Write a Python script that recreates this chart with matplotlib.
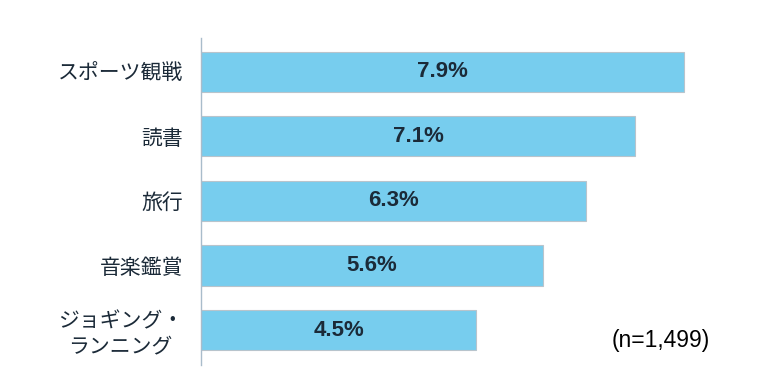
import matplotlib
matplotlib.use('Agg')
import matplotlib.pyplot as plt

plt.rcParams['font.family'] = ['Noto Sans CJK JP', 'DejaVu Sans']

categories = ['スポーツ観戦', '読書', '旅行', '音楽鑑賞', 'ジョギング・\nランニング']
values = [7.9, 7.1, 6.3, 5.6, 4.5]
value_labels = ['7.9%', '7.1%', '6.3%', '5.6%', '4.5%']
note = '(n=1,499)'

bar_color = '#77CDEE'
text_color = '#1B2A38'

fig = plt.figure(figsize=(7.68, 3.84), dpi=100)
ax = fig.add_axes([201 / 768, 19 / 384, (690 - 201) / 768, 327 / 384])

ypos = list(range(len(categories)))
ax.barh(ypos, values, height=0.62, color=bar_color, edgecolor='#B8C4CC', linewidth=0.8)

for y, v, lab in zip(ypos, values, value_labels):
    ax.text(v / 2, y, lab, ha='center', va='center', fontsize=16, fontweight='bold',
            color=text_color, family=['Liberation Sans', 'DejaVu Sans'])

ax.set_xlim(0, 8)
ax.set_ylim(4.54, -0.52)
ax.set_yticks(ypos)
ax.set_yticklabels(categories, fontsize=15, color=text_color, multialignment='center',
                   linespacing=1.15)
ax.tick_params(axis='y', length=0, pad=13)
ax.set_xticks([])

for side in ['top', 'right', 'bottom']:
    ax.spines[side].set_visible(False)
ax.spines['left'].set_color('#A9BCCB')
ax.spines['left'].set_linewidth(1.0)

fig.text(710 / 768, (384 - 340) / 384, note, ha='right', va='center', fontsize=16.5,
         color='black', family=['Liberation Sans', 'DejaVu Sans'])

fig.savefig('out.png', dpi=100)
